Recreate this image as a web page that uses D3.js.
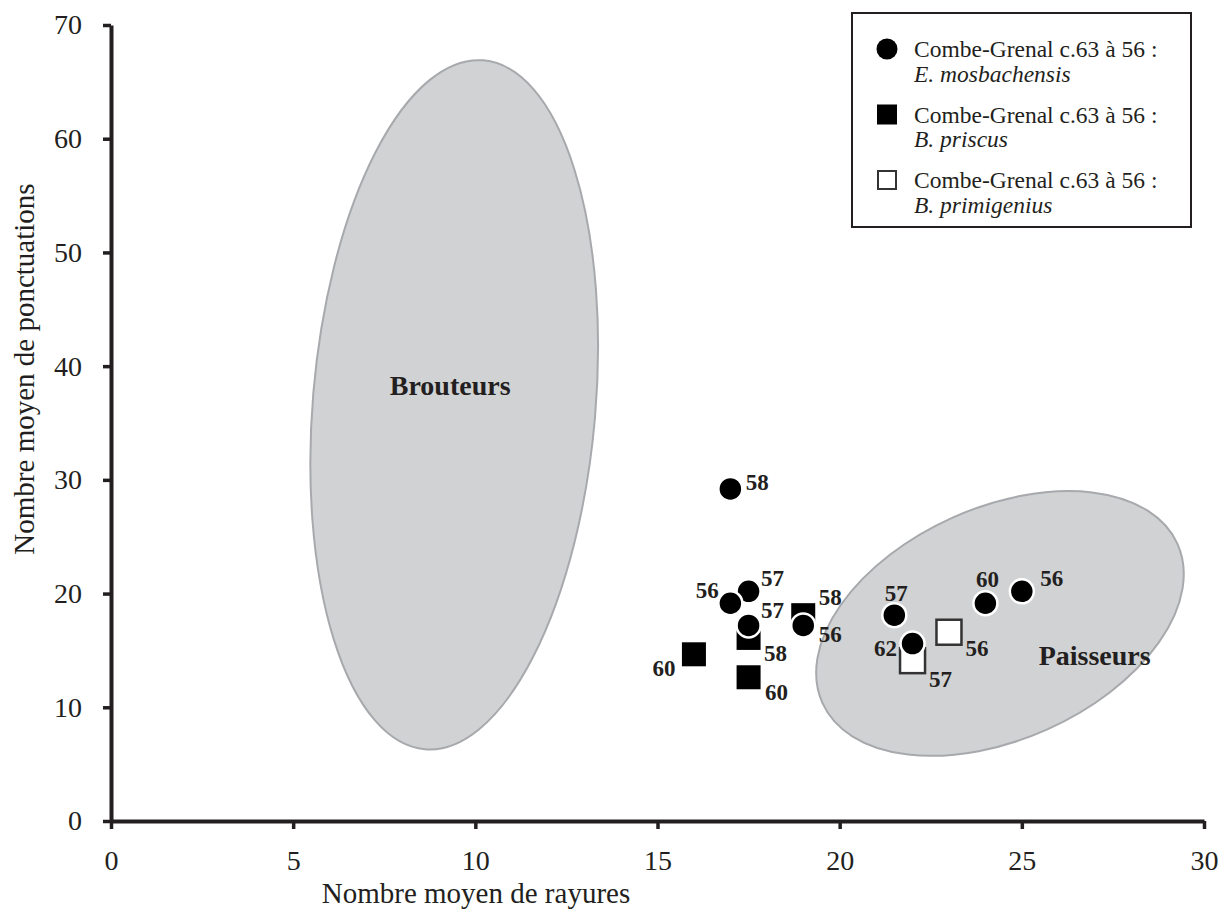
<!DOCTYPE html>
<html>
<head>
<meta charset="utf-8">
<script src="https://cdn.jsdelivr.net/npm/d3@7"></script>
<style>
  body { margin: 0; background: #fff; }
  text { font-family: "Liberation Serif", "Times New Roman", serif; fill: #231f20; }
</style>
</head>
<body>
<script>
// data

var xTicks = [0, 5, 10, 15, 20, 25, 30];
var yTicks = [0, 10, 20, 30, 40, 50, 60, 70];

// E. mosbachensis (black circles)
var mosbX = [17, 17.5, 17, 17.5, 19, 21.5, 22, 24, 25];
var mosbY = [29.2, 20.2, 19.15, 17.2, 17.2, 18.1, 15.6, 19.15, 20.2];
var mosbLayer = ["58", "57", "56", "57", "56", "57", "62", "60", "56"];

// B. priscus (black squares)
var priscusX = [16, 17.5, 17.5, 19];
var priscusY = [14.66, 12.64, 16.1, 18.1];
var priscusLayer = ["60", "60", "58", "58"];

// B. primigenius (open squares)
var primigX = [23, 22];
var primigY = [16.6, 14.1];
var primigLayer = ["56", "57"];

// grazer / browser zones
var zoneNames = ["Brouteurs", "Paisseurs"];
var zoneCx = [9.42, 24.4];
var zoneCy = [36.6, 17.37];
var zoneRx = [3.88, 5.34];
var zoneRy = [30.4, 10.2];
var zoneAngle = [4.85, -24.1];
var zoneLabelX = [9.31, 27.0];
var zoneLabelY = [38.3, 14.6];

var legendLabels = ["E. mosbachensis", "B. priscus", "B. primigenius"];

// label nudges (px) so the layer numbers sit like in the original
var mosbNudge = [[27,-7],[24,-13],[-23,-13],[24,-15],[27,9],[2,-22],[-27,4],[2,-24],[30,-13]];
var priscusNudge = [[-30,14],[28,15],[27,15],[27,-18]];
var primigNudge = [[28,16],[28,18]];

var width = 1223, height = 910;
var ink = "#231f20";

var svg = d3.select("body").append("svg")
    .attr("width", width)
    .attr("height", height);

var x = d3.scaleLinear().domain([0, 30]).range([111, 1204]);
var y = d3.scaleLinear().domain([0, 70]).range([821, 25]);

function toPoints(xs, ys, layers, nudge) {
    return xs.map(function (v, i) {
        return { x: v, y: ys[i], layer: layers[i], dx: nudge[i][0], dy: nudge[i][1] };
    });
}
var mosb = toPoints(mosbX, mosbY, mosbLayer, mosbNudge);
var priscus = toPoints(priscusX, priscusY, priscusLayer, priscusNudge);
var primig = toPoints(primigX, primigY, primigLayer, primigNudge);

// zones
var zones = zoneNames.map(function (n, i) {
    return { name: n, cx: zoneCx[i], cy: zoneCy[i], rx: zoneRx[i], ry: zoneRy[i],
             angle: zoneAngle[i], lx: zoneLabelX[i], ly: zoneLabelY[i] };
});

svg.selectAll(".zone")
    .data(zones)
    .enter().append("ellipse")
    .attr("class", "zone")
    .attr("cx", function (d) { return x(d.cx); })
    .attr("cy", function (d) { return y(d.cy); })
    .attr("rx", function (d) { return x(d.cx + d.rx) - x(d.cx); })
    .attr("ry", function (d) { return y(d.cy) - y(d.cy + d.ry); })
    .attr("transform", function (d) { return "rotate(" + d.angle + "," + x(d.cx) + "," + y(d.cy) + ")"; })
    .style("fill", "#d1d2d4")
    .style("stroke", "#a7a9ac")
    .style("stroke-width", 2);

svg.selectAll(".zone-label")
    .data(zones)
    .enter().append("text")
    .attr("class", "zone-label")
    .attr("x", function (d) { return x(d.lx); })
    .attr("y", function (d) { return y(d.ly); })
    .attr("dy", "0.35em")
    .attr("text-anchor", "middle")
    .style("font-size", "28px")
    .style("font-weight", "bold")
    .text(function (d) { return d.name; });

// axes
var xAxis = svg.append("g")
    .attr("transform", "translate(0," + y(0) + ")")
    .call(d3.axisBottom(x).tickValues(xTicks).tickSize(8).tickSizeOuter(0).tickPadding(21));
var yAxis = svg.append("g")
    .attr("transform", "translate(" + x(0) + ",0)")
    .call(d3.axisLeft(y).tickValues(yTicks).tickSize(8).tickSizeOuter(0).tickPadding(21));

[xAxis, yAxis].forEach(function (g) {
    g.select(".domain").style("stroke", ink).style("stroke-width", 4);
    g.selectAll(".tick line").style("stroke", ink).style("stroke-width", 3.5);
    g.selectAll(".tick text")
        .style("font-family", "'Liberation Serif', 'Times New Roman', serif")
        .style("font-size", "28px")
        .style("fill", ink);
});

svg.append("text")
    .attr("x", 476)
    .attr("y", 903)
    .attr("text-anchor", "middle")
    .style("font-size", "29px")
    .text("Nombre moyen de rayures");

svg.append("text")
    .attr("transform", "translate(34,369) rotate(-90)")
    .attr("text-anchor", "middle")
    .style("font-size", "29px")
    .text("Nombre moyen de ponctuations");

// points: squares first, circles on top
var sq = 24;
svg.selectAll(".priscus")
    .data(priscus)
    .enter().append("rect")
    .attr("class", "priscus")
    .attr("x", function (d) { return x(d.x) - sq / 2; })
    .attr("y", function (d) { return y(d.y) - sq / 2; })
    .attr("width", sq)
    .attr("height", sq)
    .style("fill", "#000");

var osq = 25;
svg.selectAll(".primig")
    .data(primig)
    .enter().append("rect")
    .attr("class", "primig")
    .attr("x", function (d) { return x(d.x) - osq / 2; })
    .attr("y", function (d) { return y(d.y) - osq / 2; })
    .attr("width", osq)
    .attr("height", osq)
    .style("fill", "#fff")
    .style("stroke", "#333")
    .style("stroke-width", 2.5);

svg.selectAll(".mosb")
    .data(mosb)
    .enter().append("circle")
    .attr("class", "mosb")
    .attr("cx", function (d) { return x(d.x); })
    .attr("cy", function (d) { return y(d.y); })
    .attr("r", 12)
    .style("fill", "#000")
    .style("stroke", "#fff")
    .style("stroke-width", 2.5);

// layer numbers
svg.selectAll(".layer")
    .data(priscus.concat(primig, mosb))
    .enter().append("text")
    .attr("class", "layer")
    .attr("x", function (d) { return x(d.x) + d.dx; })
    .attr("y", function (d) { return y(d.y) + d.dy; })
    .attr("dy", "0.35em")
    .attr("text-anchor", "middle")
    .style("font-size", "23px")
    .style("font-weight", "bold")
    .text(function (d) { return d.layer; });

// legend
var legend = svg.append("g");
legend.append("rect")
    .attr("x", 852).attr("y", 13)
    .attr("width", 339).attr("height", 214)
    .style("fill", "#fff")
    .style("stroke", ink)
    .style("stroke-width", 2);

legendLabels.forEach(function (lab, i) {
    var base = 57 + i * 65.5;
    var cy = base - 8;
    if (i === 0) {
        legend.append("circle").attr("cx", 887).attr("cy", cy).attr("r", 10.5).style("fill", "#000");
    } else if (i === 1) {
        legend.append("rect").attr("x", 877).attr("y", cy - 10).attr("width", 20).attr("height", 20).style("fill", "#000");
    } else {
        legend.append("rect").attr("x", 878).attr("y", cy - 9).attr("width", 18).attr("height", 18)
            .style("fill", "#fff").style("stroke", "#333").style("stroke-width", 2);
    }
    legend.append("text")
        .attr("x", 914).attr("y", base)
        .style("font-size", "23.5px")
        .text("Combe-Grenal c.63 à 56 :");
    legend.append("text")
        .attr("x", 914).attr("y", base + 24.5)
        .style("font-size", "23.5px")
        .style("font-style", "italic")
        .text(lab);
});
</script>
</body>
</html>
